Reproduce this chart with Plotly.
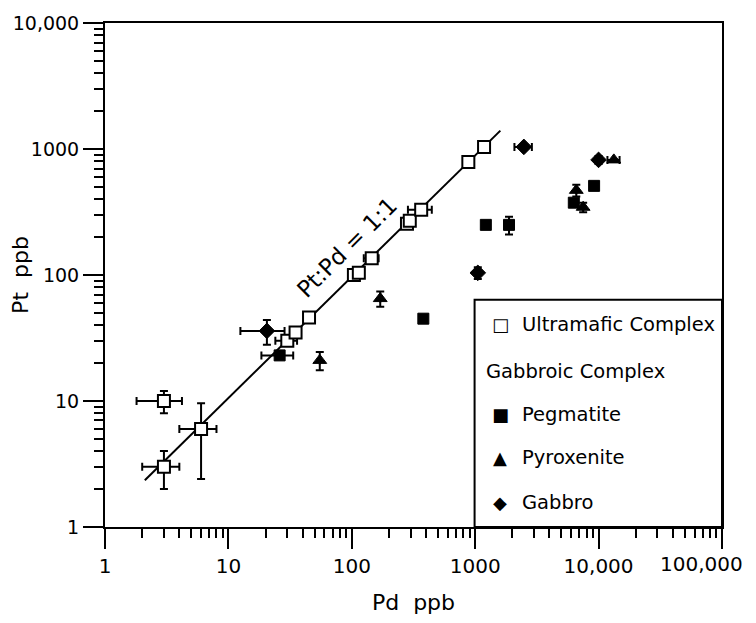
import math
import plotly.graph_objects as go

# ---------------- data ----------------
# Ultramafic Complex (open squares)
ultra_pd = [3, 6, 3, 30, 35, 45, 104, 114, 145, 280, 295, 365, 880, 1180]
ultra_pt = [10, 6, 3, 30, 35, 46, 100, 104, 136, 255, 270, 330, 790, 1040]
ultra_pd_err = [1.2, 2, 1, 6, 0, 0, 0, 0, 20, 0, 0, 80, 0, 0]
ultra_pt_err = [2, 3.6, 1, 0, 0, 0, 0, 0, 0, 0, 0, 0, 0, 0]

# Gabbroic Complex - Pegmatite (filled squares)
peg_pd = [26, 380, 1220, 1880, 6300, 9200]
peg_pt = [23, 45, 250, 250, 375, 510]
peg_pd_err = [7.5, 0, 0, 0, 0, 0]
peg_pt_err = [0, 0, 0, 40, 0, 0]

# Gabbroic Complex - Pyroxenite (filled triangles)
pyx_pd = [55, 170, 6600, 7500, 13300]
pyx_pt = [21, 65, 470, 345, 820]
pyx_pd_err = [0, 0, 0, 0, 1500]
pyx_pt_err = [3.5, 9, 50, 30, 0]

# Gabbroic Complex - Gabbro (filled diamonds)
gab_pd = [20.5, 1050, 2480, 10000]
gab_pt = [36, 104, 1040, 820]
gab_pd_err = [8, 0, 400, 0]
gab_pt_err = [8, 11, 0, 60]

# Pt:Pd = 1:1 reference line (end points as drawn)
line_pd = [2.1, 1600]
line_pt = [2.35, 1400]

x_tick_vals = [1, 10, 100, 1000, 10000, 100000]
x_tick_text = ["1", "10", "100", "1000", "10,000", "100,000"]
y_tick_vals = [1, 10, 100, 1000, 10000]
y_tick_text = ["1", "10", "100", "1000", "10,000"]

FONT = "DejaVu Sans"
BLACK = "black"


def err(arr):
    return dict(type="data", array=arr, symmetric=True, color=BLACK,
                thickness=2, width=4)


fig = go.Figure()

fig.add_trace(go.Scatter(x=line_pd, y=line_pt, mode="lines",
                         line=dict(color=BLACK, width=2), showlegend=False,
                         hoverinfo="skip"))

fig.add_trace(go.Scatter(
    x=ultra_pd, y=ultra_pt, mode="markers", name="Ultramafic Complex",
    marker=dict(symbol="square", size=12, color="white",
                line=dict(color=BLACK, width=2)),
    error_x=err(ultra_pd_err), error_y=err(ultra_pt_err), showlegend=False))

fig.add_trace(go.Scatter(
    x=peg_pd, y=peg_pt, mode="markers", name="Pegmatite",
    marker=dict(symbol="square", size=11, color=BLACK,
                line=dict(color=BLACK, width=1)),
    error_x=err(peg_pd_err), error_y=err(peg_pt_err), showlegend=False))

fig.add_trace(go.Scatter(
    x=pyx_pd, y=pyx_pt, mode="markers", name="Pyroxenite",
    marker=dict(symbol="triangle-up", size=12, color=BLACK,
                line=dict(color=BLACK, width=1)),
    error_x=err(pyx_pd_err), error_y=err(pyx_pt_err), showlegend=False))

fig.add_trace(go.Scatter(
    x=gab_pd, y=gab_pt, mode="markers", name="Gabbro",
    marker=dict(symbol="diamond", size=12, color=BLACK,
                line=dict(color=BLACK, width=1)),
    error_x=err(gab_pd_err), error_y=err(gab_pt_err), showlegend=False))

axis_common = dict(
    type="log", showgrid=False, zeroline=False, automargin=False,
    showline=True, linecolor=BLACK, linewidth=2, mirror=True,
    ticks="outside", ticklen=20, tickwidth=2, tickcolor=BLACK,
    ticklabeloverflow="allow",
    minor=dict(ticks="outside", ticklen=9, tickwidth=1.5, tickcolor=BLACK,
               dtick="D1", showgrid=False),
)

# the last x label would run past the page edge, so it is drawn separately
x_text_axis = x_tick_text[:-1] + [""]

fig.update_xaxes(range=[-0.0005, 5.0005], tickmode="array",
                 tickvals=x_tick_vals, ticktext=x_text_axis,
                 tickfont=dict(family=FONT, size=20, color=BLACK),
                 title=dict(text="Pd  ppb", font=dict(family=FONT, size=22,
                                                      color=BLACK), standoff=20),
                 **axis_common)
fig.update_yaxes(range=[-0.0005, 4.0005], tickmode="array",
                 tickvals=y_tick_vals, ticktext=y_tick_text,
                 tickfont=dict(family=FONT, size=19, color=BLACK),
                 title=dict(text="Pt  ppb", font=dict(family=FONT, size=22,
                                                      color=BLACK), standoff=12),
                 **axis_common)

fig.add_annotation(x=math.log10(x_tick_vals[-1]), y=0, xref="x", yref="paper",
                   text=x_tick_text[-1], showarrow=False, xanchor="center",
                   yanchor="top", xshift=-20, yshift=-23,
                   font=dict(family=FONT, size=20, color=BLACK))

# 1:1 label along the line
fig.add_annotation(x=1.965, y=2.22, xref="x", yref="y", text="Pt:Pd = 1:1",
                   textangle=-45, showarrow=False,
                   font=dict(family=FONT, size=23, color=BLACK))

# legend box (manual, to reproduce the layout)
fig.add_shape(type="rect", xref="paper", yref="paper", x0=0.599, x1=1.0,
              y0=0.0, y1=0.451, line=dict(color=BLACK, width=2),
              fillcolor="white", layer="below")

leg_font = dict(family=FONT, size=19.5, color=BLACK)
sym_font = dict(family=FONT, size=18, color=BLACK)
items = [
    ("□", "Ultramafic Complex", 0.4016),
    ("■", "Pegmatite", 0.224),
    ("▲", "Pyroxenite", 0.138),
    ("◆", "Gabbro", 0.049),
]
for sym, label, yy in items:
    fig.add_annotation(x=0.641, y=yy, xref="paper", yref="paper", text=sym,
                       showarrow=False, xanchor="center", yanchor="middle",
                       font=sym_font)
    fig.add_annotation(x=0.672, y=yy, xref="paper", yref="paper", text=label,
                       showarrow=False, xanchor="left", yanchor="middle",
                       font=leg_font)
fig.add_annotation(x=0.615, y=0.309, xref="paper", yref="paper",
                   text="Gabbroic Complex", showarrow=False, xanchor="left",
                   yanchor="middle", font=leg_font)

fig.update_layout(
    width=740, height=607,
    margin=dict(l=97, r=26, t=15, b=88),
    plot_bgcolor="white", paper_bgcolor="white",
    font=dict(family=FONT, color=BLACK),
    showlegend=False,
)

fig.write_html("out.html")
